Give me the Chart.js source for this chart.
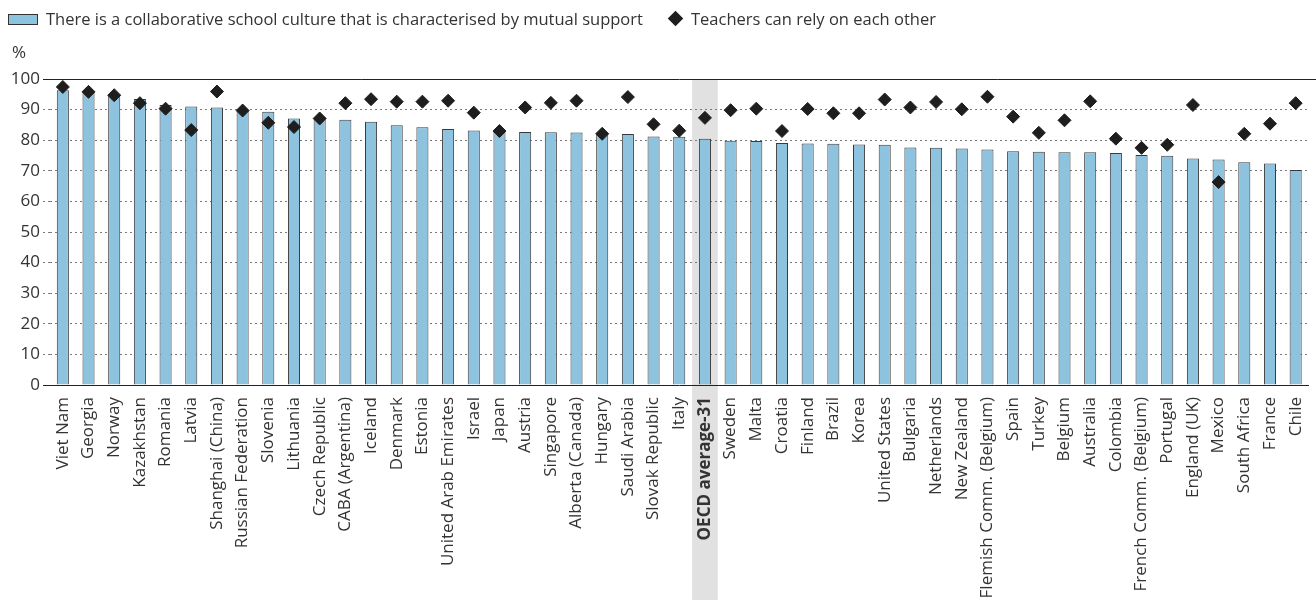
<!DOCTYPE html>
<html>
<head>
<meta charset="utf-8">
<script src="https://cdn.jsdelivr.net/npm/chart.js@4/dist/chart.umd.min.js"></script>
<style>
html,body{margin:0;padding:0;background:#fff;}
#wrap{position:relative;width:1316px;height:600px;font-family:"Open Sans",sans-serif;color:#333;}
#c{position:absolute;left:0;top:0;}
.lg{position:absolute;font-size:16.5px;line-height:20px;white-space:nowrap;color:#333;}
.box{position:absolute;left:8px;top:14px;width:28px;height:9px;background:#8ec3e0;border:1px solid #333;}
.dia{position:absolute;left:670px;top:13px;width:11px;height:11px;background:#1e1e1e;transform:rotate(45deg);}
</style>
</head>
<body>
<div id="wrap">
<canvas id="c" width="1316" height="600"></canvas>
<div class="box"></div>
<div class="lg" style="left:46px;top:9px;">There is a collaborative school culture that is characterised by mutual support</div>
<div class="dia"></div>
<div class="lg" style="left:691px;top:9px;">Teachers can rely on each other</div>
<div class="lg" style="left:12px;top:42px;font-size:17px;">%</div>
</div>
<script>
const categories = ["Viet Nam","Georgia","Norway","Kazakhstan","Romania","Latvia","Shanghai (China)","Russian Federation","Slovenia","Lithuania","Czech Republic","CABA (Argentina)","Iceland","Denmark","Estonia","United Arab Emirates","Israel","Japan","Austria","Singapore","Alberta (Canada)","Hungary","Saudi Arabia","Slovak Republic","Italy","OECD average-31","Sweden","Malta","Croatia","Finland","Brazil","Korea","United States","Bulgaria","Netherlands","New Zealand","Flemish Comm. (Belgium)","Spain","Turkey","Belgium","Australia","Colombia","French Comm. (Belgium)","Portugal","England (UK)","Mexico","South Africa","France","Chile"];
const collaborativeCulture = [96.3,95.7,94.5,93.5,91.5,91.0,90.7,89.9,89.3,87.1,87.0,86.7,86.0,84.9,84.2,83.7,83.2,82.7,82.7,82.6,82.5,82.1,82.0,81.2,81.1,80.5,79.8,79.7,79.1,78.9,78.8,78.6,78.5,77.6,77.5,77.3,77.0,76.4,76.2,76.1,76.1,75.8,75.2,74.9,74.0,73.7,72.8,72.4,70.3];
const teachersRely = [97.4,95.8,94.7,92.1,90.3,83.3,95.9,89.7,85.7,84.3,87.1,92.1,93.4,92.6,92.6,92.9,89.0,83.0,90.7,92.2,92.9,82.1,94.1,85.2,83.1,87.3,89.8,90.3,83.0,90.2,88.8,88.8,93.3,90.7,92.5,90.1,94.2,87.7,82.4,86.5,92.7,80.5,77.5,78.5,91.5,66.3,82.1,85.4,92.1];
const yTicks = [0,10,20,30,40,50,60,70,80,90,100];
const highlightCategory = "OECD average-31";

const decor = {
  id: 'decor',
  beforeDraw(chart) {
    const {ctx, chartArea, scales: {x}} = chart;
    const i = categories.indexOf(highlightCategory);
    const cx = x.getPixelForValue(i);
    const w = x.getPixelForValue(1) - x.getPixelForValue(0);
    ctx.save();
    ctx.fillStyle = '#e1e1e1';
    ctx.fillRect(cx - w / 2, chartArea.top, w, chart.height - chartArea.top);
    ctx.restore();
  },
  beforeDatasetsDraw(chart) {
    const {ctx, chartArea, scales: {y}} = chart;
    const py = Math.round(y.getPixelForValue(100)) + 0.5;
    ctx.save();
    ctx.strokeStyle = '#222';
    ctx.lineWidth = 1;
    ctx.beginPath();
    ctx.moveTo(chartArea.left - 7, py);
    ctx.lineTo(chart.width, py);
    ctx.stroke();
    ctx.restore();
  }
};

const gridCol = (c) => (c.tick && c.tick.value === 100) ? 'rgba(0,0,0,0)' : (c.tick && c.tick.value === 0 ? '#222' : '#7a7a7a');

new Chart(document.getElementById('c'), {
  data: {
    labels: categories,
    datasets: [
      {
        type: 'line',
        label: 'Teachers can rely on each other',
        data: teachersRely,
        showLine: false,
        pointStyle: 'rectRot',
        pointRadius: 6.5,
        pointBackgroundColor: '#1e1e1e',
        pointBorderColor: '#1e1e1e',
        pointBorderWidth: 1,
        order: 0
      },
      {
        type: 'bar',
        label: 'There is a collaborative school culture that is characterised by mutual support',
        data: collaborativeCulture,
        backgroundColor: '#8ec3e0',
        borderColor: '#3a3a3a',
        borderWidth: 1,
        categoryPercentage: 1,
        barPercentage: 0.47,
        order: 1
      }
    ]
  },
  options: {
    responsive: false,
    animation: false,
    devicePixelRatio: 1,
    layout: { padding: { top: 79, right: 4, left: 0, bottom: 0 } },
    plugins: { legend: { display: false }, tooltip: { enabled: false } },
    scales: {
      x: {
        type: 'category',
        grid: { display: false, drawTicks: false },
        border: { display: true, color: '#222', width: 1 },
        ticks: {
          autoSkip: false,
          minRotation: 90,
          maxRotation: 90,
          padding: 12,
          color: '#333',
          font: (c) => ({ family: 'Open Sans', size: 17, weight: (categories[c.index] === highlightCategory) ? 'bold' : 'normal' })
        },
        afterFit: (s) => { s.height = 215; s.paddingLeft = 0; s.paddingRight = 0; }
      },
      y: {
        min: 0,
        max: 100,
        afterBuildTicks: (s) => { s.ticks = yTicks.map(v => ({ value: v })); },
        grid: {
          color: gridCol,
          tickColor: (c) => (c.tick && (c.tick.value === 0 || c.tick.value === 100)) ? '#222' : '#7a7a7a',
          tickBorderDash: (c) => (c.tick && (c.tick.value === 0 || c.tick.value === 100)) ? [] : [2, 3],
          tickLength: 7,
          lineWidth: 1
        },
        border: { display: false, dash: [2, 3] },
        ticks: { padding: 3, color: '#333', font: { family: 'Open Sans', size: 17 } },
        afterFit: (s) => { s.width = 50; }
      }
    }
  },
  plugins: [decor]
});
</script>
</body>
</html>
